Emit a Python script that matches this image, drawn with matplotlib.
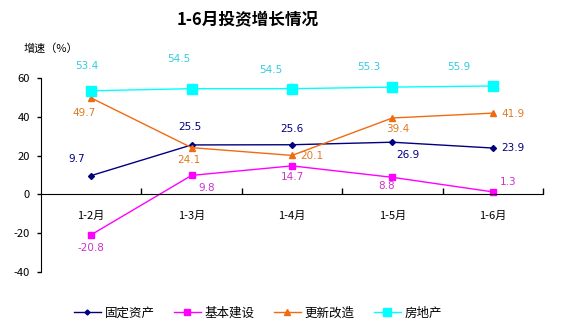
"""1-6月投资增长情况 line chart."""

import matplotlib
matplotlib.use("Agg")
import matplotlib.pyplot as plt
from matplotlib.ticker import FixedLocator

plt.rcParams["font.family"] = ["Noto Sans CJK SC", "DejaVu Sans"]
plt.rcParams["axes.unicode_minus"] = False

months = ["1-2月", "1-3月", "1-4月", "1-5月", "1-6月"]
fixed_assets = [9.7, 25.5, 25.6, 26.9, 23.9]
capital_construction = [-20.8, 9.8, 14.7, 8.8, 1.3]
renovation = [49.7, 24.1, 20.1, 39.4, 41.9]
real_estate = [53.4, 54.5, 54.5, 55.3, 55.9]

# (name, values, line colour, label colour, marker, marker size, label offsets in px)
SERIES = [
    ("固定资产", fixed_assets, "#000080", "#000080", "D", 3,
     [(-15, 17), (-2, 18), (0, 16), (15, -13), (20, 0)]),
    ("基本建设", capital_construction, "#FF00FF", "#CC33CC", "s", 4.5,
     [(0, -13), (15, -13), (0, -11), (-6, -9), (15, 10)]),
    ("更新改造", renovation, "#F26A10", "#E07A20", "^", 5,
     [(-7, -15), (-3, -12), (20, -1), (5, -11), (20, -1)]),
    ("房地产", real_estate, "#00FFFF", "#33CCDD", "s", 6.5,
     [(-4, 25), (-13, 30), (-21, 19), (-24, 20), (-34, 19)]),
]


def main() -> None:
    fig = plt.figure(figsize=(5.61, 3.32), dpi=100)
    ax = fig.add_axes([41 / 561, 1 - 272 / 332, 502 / 561, 194 / 332])
    xs = list(range(len(months)))

    for name, values, color, lcolor, marker, msize, offsets in SERIES:
        ax.plot(xs, values, color=color, linewidth=1.0, marker=marker,
                markersize=msize, markeredgecolor=color, label=name,
                clip_on=False)
        for x, v, (dx, dy) in zip(xs, values, offsets):
            ax.annotate(f"{v:.1f}", (x, v), xytext=(dx, dy),
                        textcoords="offset pixels", ha="center", va="center",
                        color=lcolor, fontsize=7.5, family="DejaVu Sans")

    ax.set_xlim(-0.5, len(months) - 0.5)
    ax.set_ylim(-40, 60)
    ax.set_yticks(range(-40, 61, 20))
    ax.tick_params(axis="y", direction="out", length=3, width=1,
                   labelsize=8, pad=5)

    ax.spines["top"].set_visible(False)
    ax.spines["right"].set_visible(False)
    ax.spines["bottom"].set_position(("data", 0))
    ax.set_xticks(xs)
    ax.set_xticklabels(months)
    ax.xaxis.set_minor_locator(FixedLocator([i + 0.5 for i in xs]))
    ax.tick_params(axis="x", which="major", length=0, labelsize=8, pad=12)
    ax.tick_params(axis="x", which="minor", direction="in", length=4, width=1)

    fig.text(248 / 561, 1 - 20 / 332, "1-6月投资增长情况", ha="center",
             va="center", fontsize=12, fontweight="bold")
    fig.text(24 / 561, 1 - 48 / 332, "增速（%）", ha="left", va="center",
             fontsize=8)

    fig.legend(loc="center", bbox_to_anchor=(258 / 561, 1 - 313 / 332),
               ncol=4, frameon=False, fontsize=9, handlelength=2.2,
               handletextpad=0.3, columnspacing=1.5, markerscale=0.85)

    fig.savefig("out.png", dpi=100)


if __name__ == "__main__":
    main()
